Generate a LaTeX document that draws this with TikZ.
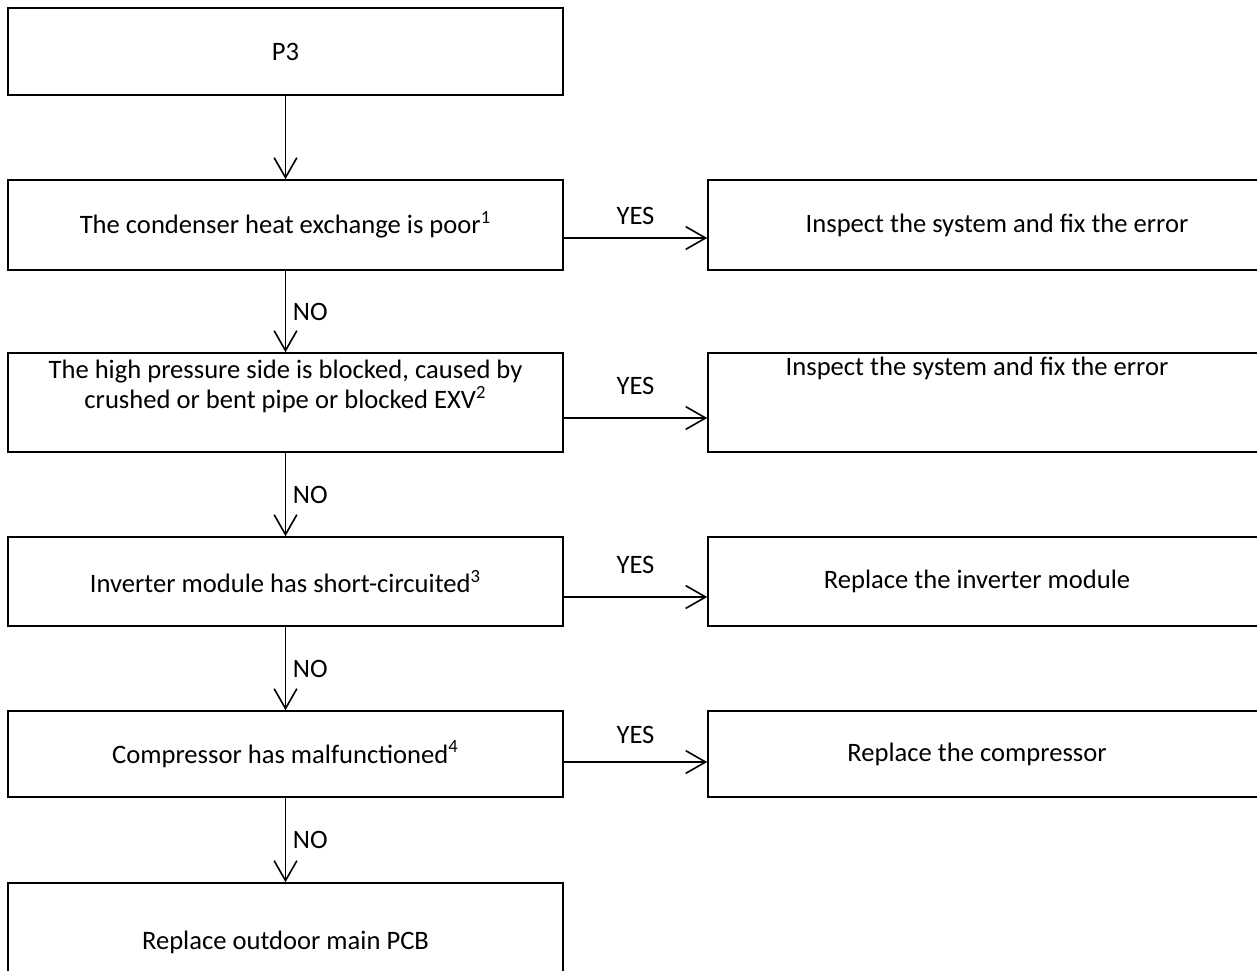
\documentclass[tikz,border=0pt]{standalone}
\usepackage{fontspec}
\setmainfont{Carlito}
\usetikzlibrary{arrows.meta,positioning}
\tikzset{
  stepbox/.style={
    draw,line width=0.8pt,align=center,inner sep=0pt,
    font=\fontsize{13.3}{15}\selectfont
  },
  leftbox/.style={stepbox,minimum width=277.5pt},
  rightbox/.style={stepbox,minimum width=296pt},
  flowarrow/.style={-{Straight Barb[length=3.5mm,width=4mm]},line width=0.8pt},
  flowlabel/.style={font=\fontsize{13.3}{15}\selectfont}
}
\begin{document}
\begin{tikzpicture}[x=0.5pt,y=-0.5pt]
  \useasboundingbox (0,0) rectangle (1257,970);
  \clip (0,0) rectangle (1257,970);
  % left column
  \node[leftbox,minimum height=43.5pt] (ptrip) at (285.5,51.5) {P3};
  \node[leftbox,minimum height=45pt] (cond) at (285.5,225) {The condenser heat exchange is poor\textsuperscript{1}};
  \node[leftbox,minimum height=49.5pt] (hps) at (285.5,402.5) {The high pressure side is blocked, caused by\\crushed or bent pipe or blocked EXV\textsuperscript{2}\rule[-18pt]{0pt}{18pt}};
  \node[leftbox,minimum height=44.5pt] (inv) at (285.5,581.5) {Inverter module has short-circuited\textsuperscript{3}};
  \node[leftbox,minimum height=43pt] (comp) at (285.5,754) {Compressor has malfunctioned\textsuperscript{4}};
  \node[leftbox,minimum height=59pt] (pcb) at (285.5,942) {Replace outdoor main PCB};
  % right column
  \node[rightbox,minimum height=45pt] (fixa) at (1004,225) {Inspect the system and fix the error\hspace*{7pt}};
  \node[rightbox,minimum height=49.5pt] (fixb) at (1004,402.5) {Inspect the system and fix the error\hspace*{27pt}\rule[-36pt]{0pt}{36pt}};
  \node[rightbox,minimum height=44.5pt] (repinv) at (1004,581.5) {Replace the inverter module\hspace*{27pt}};
  \node[rightbox,minimum height=43pt] (repcomp) at (1004,754) {Replace the compressor\hspace*{27pt}};
  % NO branch
  \draw[flowarrow] (ptrip)--(cond);
  \draw[flowarrow] (cond)--(hps) node[flowlabel,midway,right]{NO};
  \draw[flowarrow] (hps)--(inv) node[flowlabel,midway,right]{NO};
  \draw[flowarrow] (inv)--(comp) node[flowlabel,midway,right]{NO};
  \draw[flowarrow] (comp)--(pcb) node[flowlabel,midway,right]{NO};
  % YES branch
  \draw[flowarrow] ([yshift=-6.5pt]cond.east)--([yshift=-6.5pt]cond.east -| fixa.west) node[flowlabel,midway,above=3pt]{YES};
  \draw[flowarrow] ([yshift=-7.75pt]hps.east)--([yshift=-7.75pt]hps.east -| fixb.west) node[flowlabel,midway,above=8pt]{YES};
  \draw[flowarrow] ([yshift=-7.75pt]inv.east)--([yshift=-7.75pt]inv.east -| repinv.west) node[flowlabel,midway,above=8pt]{YES};
  \draw[flowarrow] ([yshift=-4pt]comp.east)--([yshift=-4pt]comp.east -| repcomp.west) node[flowlabel,midway,above=5.5pt]{YES};
\end{tikzpicture}
\end{document}
